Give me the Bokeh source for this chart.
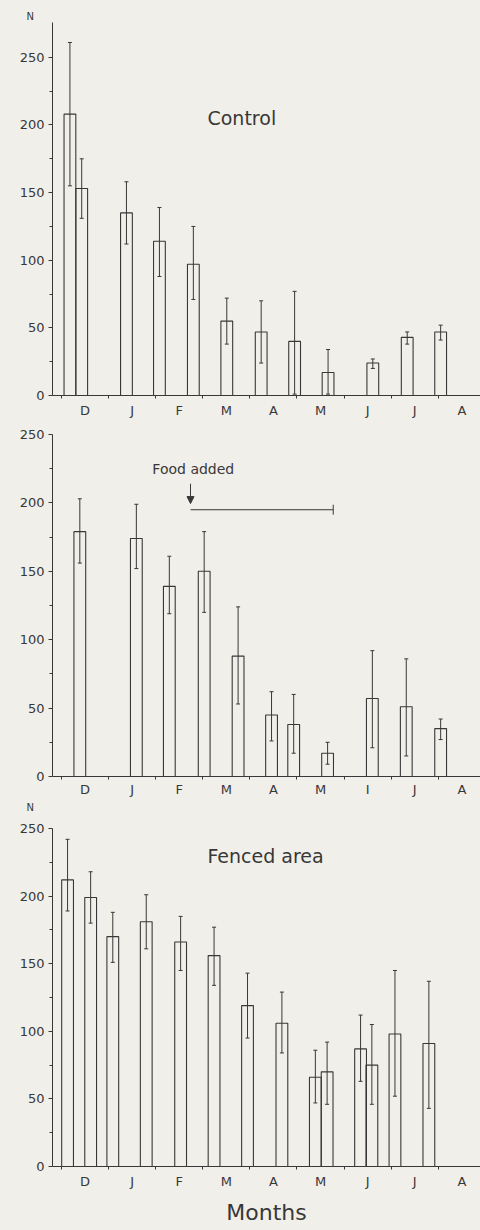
from bokeh.plotting import figure
from bokeh.models import (Range1d, FixedTicker, Whisker, TeeHead, ColumnDataSource,
                          Label, Arrow, NormalHead, Title)
from bokeh.layouts import column
from bokeh.embed import file_html
from bokeh.resources import INLINE

# ---------------- data ----------------
months = ["D", "J", "F", "M", "A", "M", "J", "J", "A"]
months_food = ["D", "J", "F", "M", "A", "M", "I", "J", "A"]
y_ticks = [0, 50, 100, 150, 200, 250]
y_minor = [25, 75, 125, 175, 225]

# Control (x = months since 1 December)
ctrl_x = [0.18, 0.43, 1.38, 2.08, 2.80, 3.51, 4.24, 4.95, 5.66, 6.61, 7.34, 8.05]
ctrl_n = [208, 153, 135, 114, 97, 55, 47, 40, 17, 24, 43, 47]
ctrl_hi = [261, 175, 158, 139, 125, 72, 70, 77, 34, 27, 47, 52]
ctrl_lo = [155, 131, 112, 88, 71, 38, 24, 1, 1, 20, 38, 41]

# Food added
food_x = [0.39, 1.59, 2.29, 3.03, 3.75, 4.46, 4.93, 5.65, 6.60, 7.32, 8.05]
food_n = [179, 174, 139, 150, 88, 45, 38, 17, 57, 51, 35]
food_hi = [203, 199, 161, 179, 124, 62, 60, 25, 92, 86, 42]
food_lo = [156, 152, 119, 120, 53, 26, 17, 9, 21, 15, 27]
food_start = 2.74
food_end = 5.77

# Fenced area
fen_x = [0.13, 0.62, 1.09, 1.80, 2.53, 3.24, 3.95, 4.68, 5.39, 5.64, 6.35, 6.59, 7.08, 7.80]
fen_n = [212, 199, 170, 181, 166, 156, 119, 106, 66, 70, 87, 75, 98, 91]
fen_hi = [242, 218, 188, 201, 185, 177, 143, 129, 86, 92, 112, 105, 145, 137]
fen_lo = [189, 180, 151, 161, 145, 134, 95, 84, 47, 46, 63, 46, 52, 43]

# ---------------- style ----------------
BG = "#f1efea"
INK = "#383838"
FONT = "DejaVu Sans"
BAR_W = 0.25


def n_title(standoff):
    return Title(text="N", align="left", offset=-26, standoff=standoff, text_font=FONT,
                 text_font_size="10px", text_font_style="normal", text_color=INK)


def panel(height, b_top, b_bottom, y_end, axis_top, labels, xs, ns, his, los, x_standoff=4):
    p = figure(width=480, height=height, output_backend="svg", toolbar_location=None,
               x_range=Range1d(-0.19, 8.896), y_range=Range1d(0, y_end),
               min_border_left=52, min_border_right=0,
               min_border_top=b_top, min_border_bottom=b_bottom)
    p.background_fill_color = BG
    p.border_fill_color = BG
    p.outline_line_color = None
    p.grid.visible = False

    src = ColumnDataSource(dict(x=xs, n=ns, hi=his, lo=los))
    p.vbar(x="x", top="n", bottom=0, width=BAR_W, source=src,
           fill_alpha=0, line_color=INK, line_width=1.1)
    w = Whisker(base="x", upper="hi", lower="lo", source=src, line_color=INK, line_width=1,
                upper_head=TeeHead(size=4, line_color=INK, line_width=1),
                lower_head=TeeHead(size=4, line_color=INK, line_width=1))
    p.add_layout(w)

    # x axis: month letters centred, boundaries as small ticks
    mids = [i + 0.5 for i in range(len(labels))]
    xa = p.xaxis[0]
    xa.ticker = FixedTicker(ticks=mids, minor_ticks=list(range(len(labels) + 1)))
    xa.major_label_overrides = {m: lab for m, lab in zip(mids, labels)}
    xa.major_tick_out = 0
    xa.major_tick_in = 0
    xa.minor_tick_out = 3
    xa.minor_tick_in = 0
    xa.major_label_standoff = x_standoff
    xa.major_label_text_font = FONT
    xa.major_label_text_font_size = "13px"
    xa.major_label_text_color = INK
    xa.axis_line_color = INK
    xa.minor_tick_line_color = INK

    ya = p.yaxis[0]
    ya.ticker = FixedTicker(ticks=y_ticks, minor_ticks=y_minor)
    ya.bounds = (0, axis_top)
    ya.major_tick_out = 4
    ya.major_tick_in = 0
    ya.minor_tick_out = 3
    ya.minor_tick_in = 0
    ya.major_label_standoff = 4
    ya.major_label_text_font = FONT
    ya.major_label_text_font_size = "13px"
    ya.major_label_text_color = INK
    ya.axis_line_color = INK
    ya.major_tick_line_color = INK
    ya.minor_tick_line_color = INK
    return p


# Panel 1: Control
p1 = panel(420, 21, 24, 276.5, 276, months, ctrl_x, ctrl_n, ctrl_hi, ctrl_lo)
p1.add_layout(n_title(0), "above")
p1.add_layout(Label(x=3.10, y=205.5, text="Control", text_font=FONT, text_font_size="19px",
                    text_color=INK, text_baseline="middle", text_align="left"))

# Panel 2: Food added  (the "N" of the panel below sits under this panel's axis)
p2 = panel(393, 14, 37, 250, 250, months_food, food_x, food_n, food_hi, food_lo, x_standoff=2)
p2.add_layout(n_title(0), "below")
p2.add_layout(Label(x=1.93, y=225, text="Food added", text_font=FONT, text_font_size="14px",
                    text_color=INK, text_baseline="middle", text_align="left"))
p2.add_layout(Arrow(end=NormalHead(size=7, fill_color=INK, line_color=INK, line_width=1),
                    x_start=food_start, y_start=214, x_end=food_start, y_end=199.5,
                    line_color=INK, line_width=1))
p2.add_layout(Arrow(end=TeeHead(size=10, line_color=INK, line_width=1),
                    x_start=food_start, y_start=195, x_end=food_end, y_end=195,
                    line_color=INK, line_width=1))

# Panel 3: Fenced area
p3 = panel(417, 15, 63, 250, 250, months, fen_x, fen_n, fen_hi, fen_lo)
p3.add_layout(Title(text="Months", align="center", offset=-10, standoff=12, text_font=FONT,
                    text_font_size="22px", text_font_style="normal", text_color=INK), "below")
p3.add_layout(Label(x=3.10, y=229.6, text="Fenced area", text_font=FONT, text_font_size="19px",
                    text_color=INK, text_baseline="middle", text_align="left"))

layout = column(p1, p2, p3, spacing=0, styles={"background-color": BG})
open("out.html", "w").write(file_html(layout, INLINE))
